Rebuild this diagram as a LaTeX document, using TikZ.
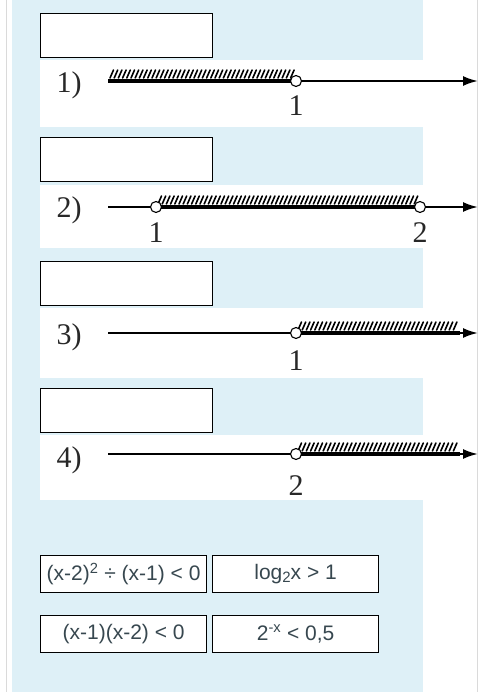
\documentclass[tikz,border=0pt]{standalone}
\usepackage{fontspec}
\setmainfont{Liberation Serif}
\newfontfamily\sansf{Liberation Sans}
\usetikzlibrary{arrows.meta}
\definecolor{panel}{RGB}{222,240,247}
\definecolor{framec}{RGB}{218,218,218}
\definecolor{txt}{RGB}{55,71,79}
\definecolor{numc}{RGB}{40,40,40}
\begin{document}
\begin{tikzpicture}[x=1pt,y=-1pt,
  ansbox/.style={draw=black, line width=1.2pt, fill=white, minimum width=172pt, minimum height=44pt, anchor=north west, inner sep=0pt},
  eqbox/.style={draw=black, line width=1.2pt, fill=white, minimum width=166pt, minimum height=37pt, anchor=north west, inner sep=0pt, font=\sansf\fontsize{21}{23}\selectfont, text=txt},
  strip/.style={fill=white, draw=none},
  axisline/.style={line width=2.2pt, -{Latex[length=15pt,width=10pt]}},
  thickseg/.style={line width=3.2pt},
  hatchln/.style={line width=1.6pt, line cap=round},
  opencirc/.style={circle, draw=black, line width=1.1pt, fill=white, minimum size=11pt, inner sep=0pt},
  rowlab/.style={font=\fontsize{30}{32}\selectfont, text=numc, inner sep=0pt},
  ticklab/.style={font=\fontsize{30}{32}\selectfont, text=numc, inner sep=0pt}
]
\useasboundingbox (0,0) rectangle (500,698);
\fill[white] (0,0) rectangle (500,698);
% panel
\fill[panel] (12,0) rectangle (423,692);
\draw[framec, line width=1pt] (6,0) -- (6,692);
\draw[framec, line width=1pt] (477,0) -- (477,692);
% white strips
\fill[strip] (40,60) rectangle (423,127);
\fill[strip] (40,185) rectangle (423,248);
\fill[strip] (40,308) rectangle (423,378);
\fill[strip] (40,435) rectangle (423,500);
% answer boxes
\node[ansbox] (b1) at (40,13) {};
\node[ansbox] (b2) at (40,137) {};
\node[ansbox] (b3) at (40,261) {};
\node[ansbox] (b4) at (40,388) {};

% ---------- row 1
\node[rowlab] (l1) at (69,85) {1)};
\coordinate (s1) at (108,81);
\coordinate (e1) at (478,81);
\draw[axisline] (s1) -- (e1);
\draw[thickseg] (108,81) -- (296,81);
\foreach \h in {110,114.2,...,292} \draw[hatchln] (\h,78) -- ++(3.5,-8);
\node[opencirc] (c1) at (296,81) {};
\node[ticklab] (t1) at (296,106) {1};

% ---------- row 2
\node[rowlab] (l2) at (69,210) {2)};
\coordinate (s2) at (108,207);
\coordinate (e2) at (478,207);
\draw[axisline] (s2) -- (e2);
\draw[thickseg] (156,207) -- (420,207);
\foreach \h in {158,162.2,...,416} \draw[hatchln] (\h,204) -- ++(3.5,-8);
\node[opencirc] (c2a) at (156,207) {};
\node[opencirc] (c2b) at (420,207) {};
\node[ticklab] (t2a) at (156,233) {1};
\node[ticklab] (t2b) at (420,233) {2};

% ---------- row 3
\node[rowlab] (l3) at (69,337) {3)};
\coordinate (s3) at (108,333);
\coordinate (e3) at (478,333);
\draw[axisline] (s3) -- (e3);
\draw[thickseg] (296,333) -- (460,333);
\foreach \h in {298,302.2,...,456} \draw[hatchln] (\h,330) -- ++(3.5,-8);
\node[opencirc] (c3) at (296,333) {};
\node[ticklab] (t3) at (296,361) {1};

% ---------- row 4
\node[rowlab] (l4) at (69,460) {4)};
\coordinate (s4) at (108,454);
\coordinate (e4) at (478,454);
\draw[axisline] (s4) -- (e4);
\draw[thickseg] (296,454) -- (460,454);
\foreach \h in {298,302.2,...,456} \draw[hatchln] (\h,451) -- ++(3.5,-8);
\node[opencirc] (c4) at (296,454) {};
\node[ticklab] (t4) at (296,486) {2};

% ---------- bottom equation boxes
\node[eqbox] (q1) at (40,555) {(x-2)\textsuperscript{2} ÷ (x-1) < 0};
\node[eqbox] (q2) at (212,555) {log\raisebox{-0.3ex}{\fontsize{15}{16}\selectfont 2}x > 1};
\node[eqbox] (q3) at (40,615) {(x-1)(x-2) < 0};
\node[eqbox] (q4) at (212,615) {2\textsuperscript{-x} < 0,5};
\end{tikzpicture}
\end{document}
